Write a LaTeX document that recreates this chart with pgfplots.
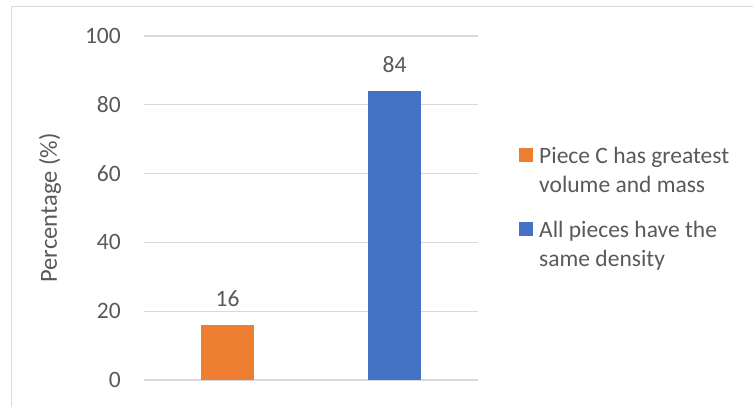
\documentclass[border=0pt]{standalone}
\usepackage{pgfplots}
\pgfplotsset{compat=1.18}
\usepackage{fontspec}
\setmainfont{Carlito}
\definecolor{txt}{HTML}{595959}
\definecolor{gridc}{HTML}{D9D9D9}
\definecolor{corange}{HTML}{ED7D31}
\definecolor{cblue}{HTML}{4472C4}
\newcommand{\chartfont}{\fontsize{23.5bp}{29bp}\selectfont}

\begin{document}
\begin{tikzpicture}[x=1bp,y=1bp]
\useasboundingbox (0,0) rectangle (753,407);
% chart frame
\draw[gridc, line width=1bp] (11,0) -- (11,400) -- (753,400);
\begin{axis}[
  at={(144bp,27bp)}, anchor=south west,
  scale only axis, width=334bp, height=344bp,
  xmin=-0.5, xmax=1.5, ymin=0, ymax=100,
  enlargelimits=false,
  xtick=\empty,
  ytick={0,20,40,60,80,100},
  /pgf/number format/assume math mode=true,
  ymajorgrids,
  grid style={gridc, line width=1.3bp},
  axis line style={draw=none},
  major tick length=0pt,
  y tick label style={font=\chartfont, color=txt, inner sep=0pt, xshift=-23bp},
  ylabel={Percentage (\%)},
  every axis y label/.style={at={(axis description cs:-0.2814,0.5)}, rotate=90, anchor=center, font=\fontsize{24.5bp}{29bp}\selectfont, color=txt},
  ybar, bar width=53bp, bar shift=0pt,
  nodes near coords,
  every node near coord/.append style={font=\chartfont, color=txt, anchor=south, inner sep=0pt, yshift=18bp},
  legend style={at={(1.1228,0.6898)}, anchor=north west, draw=none, fill=none,
    inner sep=0pt, column sep=6bp, row sep=52bp,
    font=\chartfont, text=txt, nodes={inner sep=0pt}},
  legend cell align=left,
  legend image code/.code={\fill[#1] (0bp,-8bp) rectangle (14bp,6bp);},
]
\addplot[fill=corange, draw=none] coordinates {(0,16)};
\addlegendentry{\begin{tabular}[t]{@{}l@{}}Piece C has greatest\\volume and mass\end{tabular}}
\addplot[fill=cblue, draw=none] coordinates {(1,84)};
\addlegendentry{\begin{tabular}[t]{@{}l@{}}All pieces have the\\same density\end{tabular}}
\end{axis}
\end{tikzpicture}
\end{document}
